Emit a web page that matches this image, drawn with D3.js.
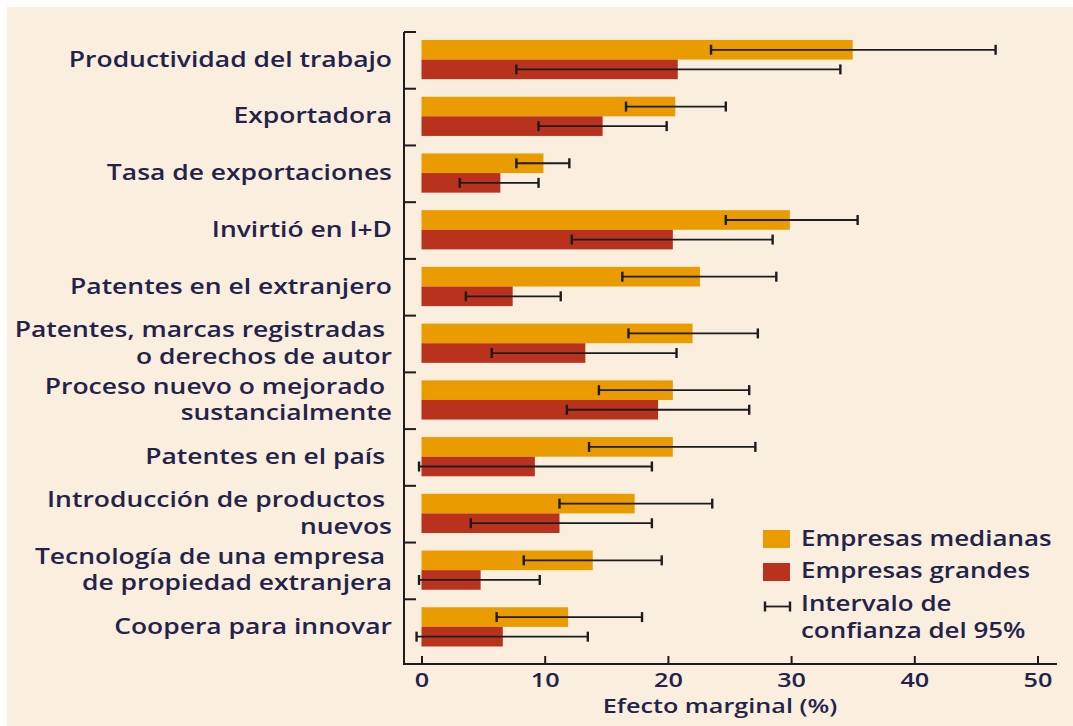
<!DOCTYPE html>
<html lang="es">
<head>
  <meta charset="UTF-8" />
  <title>Efecto marginal por tamaño de empresa</title>
  <script src="https://d3js.org/d3.v7.min.js"></script>
  <style>
    html, body {
      margin: 0;
      background: #fff;
    }
    svg {
      display: block;
      font-family: "Open Sans", sans-serif;
    }
    .label, .legend text, .tick text, .axis-title {
      fill: #23234a;
      font-weight: 600;
    }
    .label { white-space: pre; }
  </style>
</head>
<body>
  <svg id="chart" width="1073" height="726"></svg>
  <script>
    // categories (each label split into its printed lines)
    const categories = [
      ['Productividad del trabajo'],
      ['Exportadora'],
      ['Tasa de exportaciones'],
      ['Invirtió en I+D'],
      ['Patentes en el extranjero'],
      ['Patentes, marcas registradas ', 'o derechos de autor'],
      ['Proceso nuevo o mejorado ', 'sustancialmente'],
      ['Patentes en el país '],
      ['Introducción de productos ', 'nuevos'],
      ['Tecnología de una empresa ', 'de propiedad extranjera'],
      ['Coopera para innovar']
    ];

    // Empresas medianas
    const medianas = [35.0, 20.6, 9.9, 29.9, 22.6, 22.0, 20.4, 20.4, 17.3, 13.9, 11.9];
    const medianasLow = [23.5, 16.6, 7.7, 24.7, 16.3, 16.8, 14.4, 13.6, 11.2, 8.3, 6.1];
    const medianasHigh = [46.6, 24.7, 12.0, 35.4, 28.8, 27.3, 26.6, 27.1, 23.6, 19.5, 17.9];

    // Empresas grandes
    const grandes = [20.8, 14.7, 6.4, 20.4, 7.4, 13.3, 19.2, 9.2, 11.2, 4.8, 6.6];
    const grandesLow = [7.7, 9.5, 3.1, 12.2, 3.6, 5.7, 11.8, -0.2, 4.0, -0.2, -0.4];
    const grandesHigh = [34.0, 19.9, 9.5, 28.5, 11.3, 20.7, 26.6, 18.7, 18.7, 9.6, 13.5];

    const xTicks = [0, 10, 20, 30, 40, 50];
    const legendLabels = [['Empresas medianas'], ['Empresas grandes'], ['Intervalo de', 'confianza del 95%']];

    const colors = { medianas: '#e99b00', grandes: '#b9321e' };
    const stretch = 1.26; // the printed type is wider than Open Sans

    const svg = d3.select('#chart');

    // beige panel
    svg.append('rect')
      .attr('x', 7).attr('y', 7)
      .attr('width', 1073 - 7).attr('height', 726 - 7)
      .attr('fill', '#faeedf');

    const names = categories.map(c => c.join(' '));
    const x = d3.scaleLinear().domain([0, 50]).range([421.5, 1037.5]);
    const y = d3.scaleBand().domain(names).range([32, 656]).padding(0);

    const axisX0 = 404, axisY1 = 664;
    const barH = 19.6, barOff = 8;

    const rows = names.map((n, i) => ({
      name: n, lines: categories[i],
      med: medianas[i], medLo: medianasLow[i], medHi: medianasHigh[i],
      gra: grandes[i], graLo: grandesLow[i], graHi: grandesHigh[i]
    }));

    // bars
    const g = svg.append('g');
    g.selectAll('rect.med').data(rows).join('rect')
      .attr('class', 'med')
      .attr('x', x(0))
      .attr('y', d => y(d.name) + barOff)
      .attr('width', d => x(d.med) - x(0))
      .attr('height', barH)
      .attr('fill', colors.medianas);

    g.selectAll('rect.gra').data(rows).join('rect')
      .attr('class', 'gra')
      .attr('x', x(0))
      .attr('y', d => y(d.name) + barOff + barH)
      .attr('width', d => x(d.gra) - x(0))
      .attr('height', barH)
      .attr('fill', colors.grandes);

    // error bars
    function errorBar(sel, lo, hi, cy) {
      const e = sel.append('g').attr('stroke', '#1c1c1c').attr('stroke-width', 1.8);
      e.append('line').attr('x1', lo).attr('x2', hi).attr('y1', cy).attr('y2', cy);
      e.append('line').attr('x1', lo).attr('x2', lo).attr('y1', cy - 5).attr('y2', cy + 5).attr('stroke-width', 2.4);
      e.append('line').attr('x1', hi).attr('x2', hi).attr('y1', cy - 5).attr('y2', cy + 5).attr('stroke-width', 2.4);
    }
    rows.forEach(d => {
      const top = y(d.name) + barOff;
      errorBar(g, x(d.medLo), x(d.medHi), top + barH / 2);
      errorBar(g, x(d.graLo), x(d.graHi), top + barH * 1.5);
    });

    // y axis: line with ticks at category boundaries
    const axis = svg.append('g').attr('stroke', '#1c1c1c').attr('stroke-width', 2);
    axis.append('line').attr('x1', axisX0).attr('x2', axisX0).attr('y1', 32).attr('y2', axisY1);
    axis.selectAll('line.yt').data(names).join('line')
      .attr('class', 'yt')
      .attr('x1', axisX0).attr('x2', axisX0 + 12)
      .attr('y1', d => y(d)).attr('y2', d => y(d));
    axis.append('line').attr('x1', axisX0 - 1).attr('x2', 1057).attr('y1', axisY1).attr('y2', axisY1);

    // x axis ticks and labels
    const xAxis = svg.append('g')
      .attr('transform', `translate(0,${axisY1})`)
      .call(d3.axisBottom(x).tickValues(xTicks).tickSizeInner(-8).tickSizeOuter(0).tickPadding(9));
    xAxis.select('.domain').remove();
    xAxis.selectAll('.tick line').attr('stroke', '#1c1c1c').attr('stroke-width', 2);
    xAxis.selectAll('.tick text')
      .attr('font-size', 20)
      .attr('font-family', '"Open Sans", sans-serif')
      .attr('transform', `scale(${stretch},1)`);

    svg.append('g')
      .attr('transform', `translate(720,713) scale(${stretch},1)`)
      .append('text')
      .attr('class', 'axis-title')
      .attr('text-anchor', 'middle')
      .attr('font-size', 20)
      .text('Efecto marginal (%)');

    // category labels
    const labels = svg.append('g').attr('transform', `translate(392,0) scale(${stretch},1)`);
    rows.forEach(d => {
      const cy = y(d.name) + barOff + barH;
      const n = d.lines.length;
      const t = labels.append('text')
        .attr('class', 'label')
        .attr('text-anchor', 'end')
        .attr('font-size', 21);
      d.lines.forEach((line, k) => {
        t.append('tspan')
          .attr('x', 0)
          .attr('y', cy + 7 + (k - (n - 1) / 2) * 26.7)
          .text(line);
      });
    });

    // legend
    const legend = svg.append('g').attr('class', 'legend');
    legend.append('rect').attr('x', 763).attr('y', 530).attr('width', 27).attr('height', 18).attr('fill', colors.medianas);
    legend.append('rect').attr('x', 763).attr('y', 563).attr('width', 27).attr('height', 18).attr('fill', colors.grandes);
    errorBar(legend, 765, 790, 606.5);
    const legText = legend.append('g').attr('transform', `translate(801,0) scale(${stretch * 0.98},1)`);
    const legY = [[546], [578], [611, 638]];
    legendLabels.forEach((lines, i) => {
      lines.forEach((line, k) => {
        legText.append('text')
          .attr('x', 0).attr('y', legY[i][k])
          .attr('font-size', 21)
          .text(line);
      });
    });
  </script>
</body>
</html>
